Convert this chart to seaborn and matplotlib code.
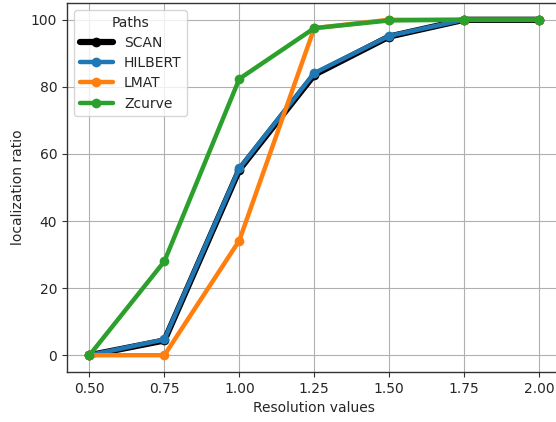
import matplotlib
matplotlib.use("Agg")
import matplotlib.pyplot as plt
import seaborn as sns
import pandas as pd

resolution = [0.5, 0.75, 1.0, 1.25, 1.5, 1.75, 2.0]
scan = [0.0, 4.4, 55.3, 83.6, 95.0, 100.0, 100.0]
hilbert = [0.0, 4.7, 55.7, 84.1, 95.2, 100.0, 100.0]
lmat = [0.0, 0.0, 34.2, 97.5, 100.0, 100.0, 100.0]
zcurve = [0.0, 28.0, 82.4, 97.5, 99.8, 100.0, 100.0]
paths = ["SCAN", "HILBERT", "LMAT", "Zcurve"]
colors = ["black", "#1f77b4", "#ff7f0e", "#2ca02c"]

rows = []
for name, vals in zip(paths, [scan, hilbert, lmat, zcurve]):
    for r, v in zip(resolution, vals):
        rows.append({"Resolution values": r, "localization ratio": v, "Paths": name})
df = pd.DataFrame(rows)

sns.set_style("ticks")
plt.rcParams['font.family'] = ['DejaVu Sans']
fig = plt.figure(figsize=(5.56, 4.22), dpi=100)
ax = fig.add_axes([67/556, 1-372/422, (561.5-67)/556, (372-3)/422])

widths = {"SCAN": 4.5, "HILBERT": 3.2, "LMAT": 3.2, "Zcurve": 3.2}
for name, col in zip(paths, colors):
    sub = df[df["Paths"] == name]
    sns.lineplot(data=sub, x="Resolution values", y="localization ratio", color=col,
                 marker="o", markersize=7, markeredgewidth=0, linewidth=widths[name],
                 label=name, ax=ax)

ax.set_xlim(0.425, 2.075)
ax.set_ylim(-5, 105)
ax.set_xticks(resolution)
ax.set_xticklabels([f"{r:.2f}" for r in resolution])
ax.set_yticks([0, 20, 40, 60, 80, 100])
ax.grid(True, color="#b0b0b0", linewidth=0.8)
ax.tick_params(direction="out", length=3.5, width=0.8, labelsize=10, color="#333333")
for s in ax.spines.values():
    s.set_color("#333333")
    s.set_linewidth(1.0)
ax.spines["right"].set_visible(False)
ax.set_xlabel("Resolution values", fontsize=10)
ax.set_ylabel("localization ratio", fontsize=10)
leg = ax.legend(title="Paths", loc="upper left", fontsize=10, title_fontsize=10,
                frameon=True, handlelength=2.4, labelspacing=0.45)
leg.get_frame().set_edgecolor("#cccccc")

fig.savefig("out.png", dpi=100)
